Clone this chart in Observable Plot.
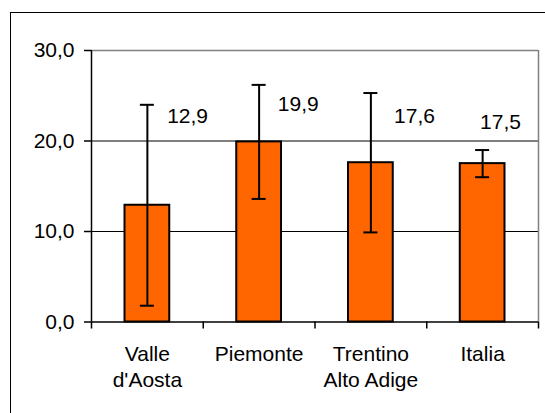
<!DOCTYPE html>
<html><head><meta charset="utf-8">
<script src="https://cdn.jsdelivr.net/npm/d3@7"></script>
<script src="https://cdn.jsdelivr.net/npm/@observablehq/plot@0.6"></script>
<style>
html,body{margin:0;padding:0;background:#fff;overflow:hidden;}
#wrap{position:relative;width:545px;height:413px;overflow:hidden;}
#frame{position:absolute;left:10px;top:12px;width:600px;height:500px;border:1.5px solid #000;box-sizing:border-box;}
#chart{position:absolute;left:0;top:0;}
</style></head><body>
<div id="wrap"><div id="frame"></div><div id="chart"></div></div>
<script>
// data
const categories = ["Valle\nd'Aosta", "Piemonte", "Trentino\nAlto Adige", "Italia"];
const values = [12.9, 19.9, 17.6, 17.5];
const errLow = [1.8, 13.6, 9.9, 16.0];
const errHigh = [24.0, 26.2, 25.3, 19.0];
const yTicks = [0, 10, 20, 30];

// layout of value labels (x in category-index units, y in data units)
const labelX = [0.86, 1.85, 2.89, 3.66];
const labelY = [22.7, 24.1, 22.7, 22.1];

const rows = categories.map((c, i) => ({i, c, v: values[i], lo: errLow[i], hi: errHigh[i], lx: labelX[i], ly: labelY[i]}));
const fmt = d => d.toFixed(1).replace(".", ",");

const plot = Plot.plot({
  width: 545, height: 413,
  marginLeft: 91, marginRight: 7, marginTop: 50, marginBottom: 91.5,
  style: {fontFamily: "'Liberation Sans', Arial, sans-serif", fontSize: "21px", background: "transparent", color: "#000"},
  x: {type: "linear", domain: [0, 4], label: null},
  y: {domain: [0, 30], label: null},
  marks: [
    Plot.ruleY([10, 20], {stroke: "#000", strokeWidth: 1}),
    Plot.ruleY([30], {stroke: "#808080", strokeWidth: 1.5}),
    Plot.ruleX([4], {stroke: "#808080", strokeWidth: 1.5}),
    Plot.rectY(rows, {x1: d => d.i, x2: d => d.i + 1, y1: 0, y2: "v", fill: "#FF6600", stroke: "#000", strokeWidth: 2, insetLeft: 33.5, insetRight: 33.5}),
    Plot.ruleX(rows, {x: d => d.i + 0.5, y1: "lo", y2: "hi", stroke: "#000", strokeWidth: 2}),
    Plot.ruleY(rows, {y: "hi", x1: d => d.i + 0.5, x2: d => d.i + 0.5, insetLeft: -7, insetRight: -7, stroke: "#000", strokeWidth: 2}),
    Plot.ruleY(rows, {y: "lo", x1: d => d.i + 0.5, x2: d => d.i + 0.5, insetLeft: -7, insetRight: -7, stroke: "#000", strokeWidth: 2}),
    Plot.text(rows, {x: "lx", y: "ly", text: d => fmt(d.v), fontSize: 21, fill: "#000"}),
    Plot.ruleX([0], {stroke: "#000", strokeWidth: 1.5}),
    Plot.ruleY([0], {stroke: "#000", strokeWidth: 1.5}),
    Plot.axisY({ticks: yTicks, tickFormat: fmt, tickSize: 7, tickPadding: 10, fontSize: 21, strokeWidth: 1.5}),
    Plot.axisX({ticks: [0, 1, 2, 3, 4], tickFormat: () => "", tickSize: 7, strokeWidth: 1.5}),
    Plot.text(rows, {x: d => d.i + 0.5, y: 0, text: "c", lineAnchor: "top", dy: 19.6, lineHeight: 1.27, fontSize: 21, fill: "#000"})
  ]
});
document.getElementById("chart").appendChild(plot);
</script>
</body></html>
